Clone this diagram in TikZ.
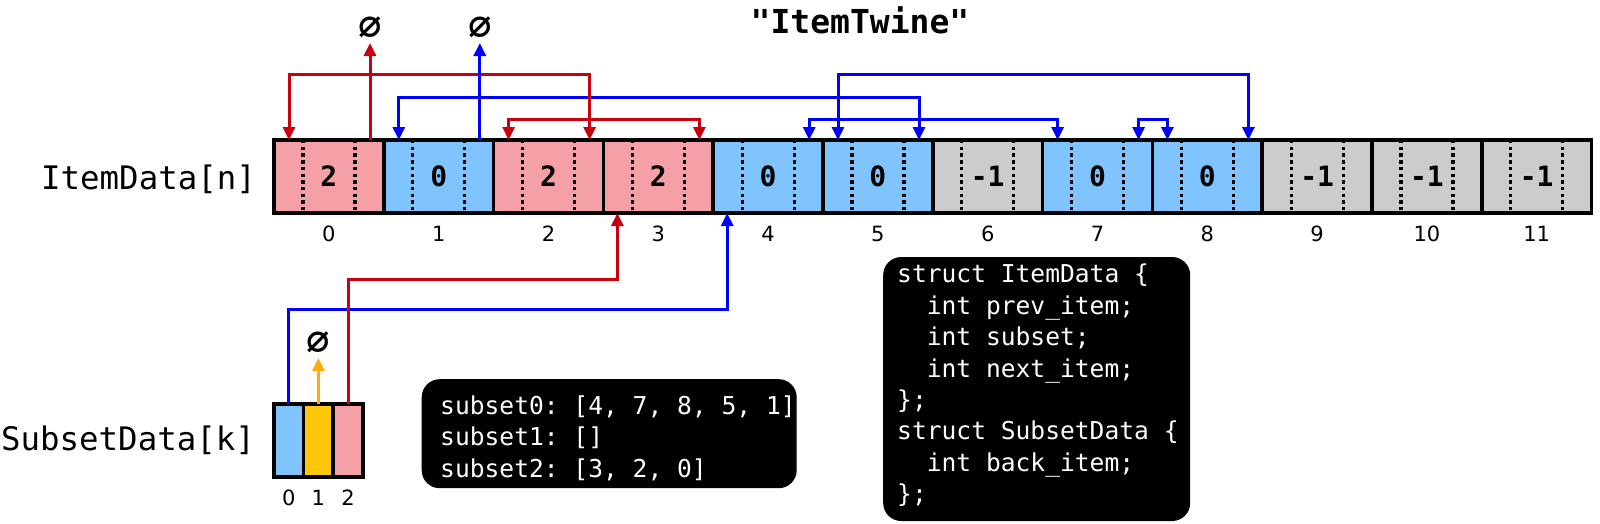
\documentclass[tikz,border=0pt]{standalone}
\usepackage{fontspec}
\setmainfont{DejaVu Sans}
\setmonofont{DejaVu Sans Mono}
\usetikzlibrary{calc,arrows.meta}
\definecolor{cellred}{RGB}{244,160,166}
\definecolor{cellblue}{RGB}{128,196,255}
\definecolor{cellgray}{RGB}{204,204,204}
\definecolor{cellgold}{RGB}{255,198,10}
\definecolor{linkred}{RGB}{200,0,16}
\definecolor{linkblue}{RGB}{0,0,255}
\definecolor{linkorange}{RGB}{255,172,10}
\tikzset{
  cell/.style={draw,line width=3.5pt,minimum width=109.8pt,minimum height=73pt,
    inner sep=0pt,outer sep=0pt,font=\fontsize{28}{30}\selectfont\ttfamily\bfseries},
  slot/.style={draw,line width=3.5pt,minimum width=29.6pt,minimum height=73pt,
    inner sep=0pt,outer sep=0pt},
  divider/.style={line width=3.2pt,dash pattern=on 3.4pt off 3.3pt},
  index/.style={font=\fontsize{21}{24}\selectfont,inner sep=0pt},
  arrname/.style={font=\fontsize{32.4}{36}\selectfont\ttfamily,anchor=east,inner sep=0pt},
  nullmark/.style={font=\fontsize{39}{42}\selectfont\ttfamily\bfseries,inner sep=0pt},
  redlink/.style={draw=linkred,line width=3pt},
  bluelink/.style={draw=linkblue,line width=3pt},
  codebox/.style={fill=black,rounded corners=18pt,inner sep=0pt},
  codetext/.style={text=white,align=left,anchor=west,inner sep=0pt,
    font=\fontsize{24.6}{31.4}\selectfont\ttfamily\frenchspacing},
}
\begin{document}
\begin{tikzpicture}[x=1pt,y=-1pt,>={Triangle[length=13pt,width=12pt]}]
    \useasboundingbox (0,0) rectangle (1600,523);
    \node[font=\fontsize{33}{36}\selectfont\ttfamily\bfseries] (title) at (860,20) {"ItemTwine"};
    % ItemData[n]
    \foreach \v/\c [count=\i from 0] in {2/cellred,0/cellblue,2/cellred,2/cellred,0/cellblue,0/cellblue,
        -1/cellgray,0/cellblue,0/cellblue,-1/cellgray,-1/cellgray,-1/cellgray}{
      \node[cell,fill=\c] (c\i) at ({274+109.8*(\i+0.5)},176.5) {\v};
      \draw[divider] ($(c\i.north west)+(29,0)$) -- ($(c\i.south west)+(29,0)$);
      \draw[divider] ($(c\i.north west)+(81,0)$) -- ($(c\i.south west)+(81,0)$);
      \node[index] (i\i) at ($(c\i.south)+(0,21)$) {\i};
      \coordinate (p\i) at ($(c\i.north west)+(15,0)$);
      \coordinate (n\i) at ($(c\i.north west)+(96,0)$);
      \coordinate (b\i) at ($(c\i.south west)+(14,0)$);
    }
    \node[arrname] (itemlabel) at (256,179) {ItemData[n]};
    % SubsetData[k]
    \foreach \c [count=\i from 0] in {cellblue,cellgold,cellred}{
      \node[slot,fill=\c] (s\i) at ({274+29.6*(\i+0.5)},440.5) {};
      \node[index] (j\i) at ($(s\i.south)+(0,21)$) {\i};
    }
    \node[arrname] (subsetlabel) at (255,440) {SubsetData[k]};
    % links
    \draw[bluelink,<->] (p1) -- (p1 |- 0,97) -| (n5);
    \draw[bluelink,<->] (p5) -- (p5 |- 0,74) -| (n8);
    \draw[bluelink,<->] (n4) -- (n4 |- 0,119) -| (p7);
    \draw[bluelink,<->] (n7) -- (n7 |- 0,119) -| (p8);
    \draw[redlink,<->] (p0) -- (p0 |- 0,74) -| (n2);
    \draw[redlink,<->] (p2) -- (p2 |- 0,119) -| (n3);
    \node[nullmark] (z0) at (n0 |- 0,28) {∅};
    \node[nullmark] (z1) at (n1 |- 0,28) {∅};
    \coordinate (t0) at (n0 |- 0,43);
    \coordinate (t1) at (n1 |- 0,43);
    \draw[redlink,->] (n0) -- (t0);
    \draw[bluelink,->] (n1) -- (t1);
    %\draw[redlink,->] (n3) -- (t3);
    \draw[bluelink,->] (s0.north) -- ++(0,-95) -| (b4);
    \draw[redlink,->] (s2.north) -- ++(0,-125) -| (b3);
    \node[nullmark] (z2) at (s1.north |- 0,343) {∅};
    \coordinate (t2) at (s1.north |- 0,358);
    \draw[draw=linkorange,line width=3pt,->] (s1.north) -- (t2);
    % code
    \node[codebox,minimum width=375pt,minimum height=109pt] (listbox) at (609.2,433.7) {};
    \node[codetext] (listtext) at (440,438) {subset0: [4, 7, 8, 5, 1]\\subset1: []\\subset2: [3, 2, 0]};
    \node[codebox,minimum width=307pt,minimum height=264pt] (structbox) at (1036.7,389) {};
    \node[codetext] (structtext) at (897,385.5) {struct ItemData \{\\\phantom{xx}int prev\_item;\\
      \phantom{xx}int subset;\\\phantom{xx}int next\_item;\\\};\\struct SubsetData \{\\
      \phantom{xx}int back\_item;\\\};};
\end{tikzpicture}
\end{document}
